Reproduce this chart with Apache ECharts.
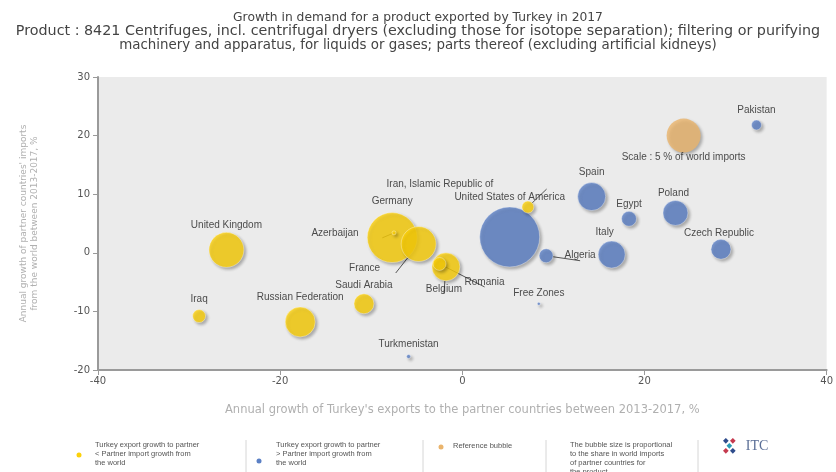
<!DOCTYPE html>
<html>
<head>
<meta charset="utf-8">
<script src="https://cdn.jsdelivr.net/npm/echarts@6/dist/echarts.min.js"></script>
<style>
html,body{margin:0;padding:0;background:#fff;}
#chart{width:836px;height:472px;}
</style>
</head>
<body>
<div id="chart"></div>
<script>
// ---- data ----
const countries = ['Pakistan','Spain','Egypt','Poland','Czech Republic','Italy','Algeria','United States of America','Iran, Islamic Republic of','Germany','Azerbaijan','France','Belgium','Romania','Free Zones','Saudi Arabia','Russian Federation','Iraq','United Kingdom','Turkmenistan'];
// annual growth of Turkey's exports to partner 2013-2017, %
const exportGrowth = [32.3, 14.2, 18.3, 23.4, 28.4, 16.4, 9.2, 5.2, 7.2, -7.7, -7.5, -4.8, -1.8, -2.5, 8.4, -10.8, -17.8, -28.9, -25.9, -5.9];
// annual growth of partner imports from the world 2013-2017, %
const importGrowth = [21.8, 9.6, 5.8, 6.8, 0.6, -0.3, -0.5, 2.7, 7.8, 2.6, 3.4, 1.5, -2.4, -1.9, -8.7, -8.7, -11.8, -10.8, 0.5, -17.7];
// share in world imports, %
const worldShare = [0.43, 3.4, 0.97, 2.7, 1.73, 3.16, 0.85, 15.6, 0.62, 10.8, 0.07, 5.3, 3.4, 0.73, 0.04, 1.73, 3.9, 0.73, 5.3, 0.07];
// 'lt' : Turkey export growth < partner import growth ; 'gt' : >
const groups = ['gt','gt','gt','gt','gt','gt','gt','gt','lt','lt','lt','lt','lt','lt','gt','lt','lt','lt','lt','gt'];
const reference = {name: 'Scale : 5 % of world imports', x: 24.3, y: 20.0, share: 5};

const xTicks = {min: -40, max: 40, interval: 20};
const yTicks = {min: -20, max: 30, interval: 10};

// ---- label placement (pixel offsets from bubble centre) ----
const labelPlace = {
  'Pakistan': [0, -15], 'Spain': [0, -24], 'Egypt': [0, -15], 'Poland': [-2, -20],
  'Czech Republic': [-2, -16], 'Italy': [-7, -22], 'Algeria': [34, 0, true],
  'United States of America': [0, -40], 'Iran, Islamic Republic of': [-88, -23, true],
  'Germany': [0, -36], 'Azerbaijan': [-59, 0, true], 'France': [-54, 24, true],
  'Belgium': [-2, 22, true], 'Romania': [45, 18, true], 'Free Zones': [0, -11],
  'Saudi Arabia': [0, -19], 'Russian Federation': [0, -25], 'Iraq': [0, -17],
  'United Kingdom': [0, -25], 'Turkmenistan': [0, -12]
};

const COLORS = {lt: '#fcd10a', gt: '#5b80c5', ref: '#eab46c'};
const sizeOf = s => 15.2 * Math.sqrt(s);

const labelBase = {
  show: true, position: 'inside', color: '#222', fontSize: 10,
  fontFamily: 'Liberation Sans, Arial, sans-serif', textBorderWidth: 0,
  textBorderColor: 'transparent', formatter: p => p.name
};

const idx = countries.map((_, i) => i).sort((a, b) => worldShare[b] - worldShare[a]);
const bubbleData = idx.map(i => {
  const pl = labelPlace[countries[i]] || [0, -12];
  return {
    name: countries[i],
    value: [exportGrowth[i], importGrowth[i], worldShare[i]],
    itemStyle: {color: COLORS[groups[i]]},
    label: Object.assign({}, labelBase, {offset: [pl[0], pl[1]]}),
    labelLine: {show: !!pl[2], lineStyle: {color: '#555', width: 1}}
  };
});

const legendFont = {fill: '#555', fontSize: 7.5, lineHeight: 9, fontFamily: 'Liberation Sans, sans-serif'};

const chart = echarts.init(document.getElementById('chart'), null, {renderer: 'canvas'});
const axisLineStyle = {color: '#9a9a9a', width: 2};
chart.setOption({
  animation: false,
  backgroundColor: '#ffffff',
  textStyle: {fontFamily: 'DejaVu Sans, sans-serif'},
  title: {
    text: '{a|Growth in demand for a product exported by Turkey in 2017}\n{c|Product : 8421 Centrifuges, incl. centrifugal dryers (excluding those for isotope separation); filtering or purifying}\n{b|machinery and apparatus, for liquids or gases; parts thereof (excluding artificial kidneys)}',
    left: 'center', top: 5,
    textStyle: {
      fontSize: 12, fontWeight: 'normal', color: '#444', lineHeight: 14, align: 'center',
      fontFamily: 'DejaVu Sans, sans-serif',
      rich: {
        a: {fontSize: 12.3, color: '#444', lineHeight: 15, fontFamily: 'DejaVu Sans, sans-serif', align: 'center'},
        c: {fontSize: 14.3, color: '#444', lineHeight: 13.5, fontFamily: 'DejaVu Sans, sans-serif', align: 'center'},
        b: {fontSize: 13.4, color: '#444', lineHeight: 13.5, fontFamily: 'DejaVu Sans, sans-serif', align: 'center'}
      }
    }
  },
  grid: {left: 98, right: 2, top: 77, bottom: 102, show: true, backgroundColor: '#ebebeb', borderWidth: 0},
  xAxis: {
    type: 'value', min: xTicks.min, max: xTicks.max, interval: xTicks.interval,
    name: "Annual growth of Turkey's exports to the partner countries between 2013-2017, %",
    nameLocation: 'middle', nameGap: 34,
    nameTextStyle: {color: '#b0b0b0', fontSize: 11.5},
    axisLine: {show: true, onZero: false, lineStyle: axisLineStyle},
    axisTick: {show: true, length: 5, lineStyle: {color: '#9a9a9a'}},
    axisLabel: {color: '#555', fontSize: 10, margin: 6},
    splitLine: {show: false}
  },
  yAxis: {
    type: 'value', min: yTicks.min, max: yTicks.max, interval: yTicks.interval,
    name: "Annual growth of partner countries' imports\nfrom the world between 2013-2017, %",
    nameLocation: 'middle', nameGap: 58, nameRotate: 90,
    nameTextStyle: {color: '#b0b0b0', fontSize: 9, lineHeight: 11},
    axisLine: {show: true, onZero: false, lineStyle: axisLineStyle},
    axisTick: {show: true, length: 5, lineStyle: {color: '#9a9a9a'}},
    axisLabel: {color: '#555', fontSize: 10, margin: 8},
    splitLine: {show: false}
  },
  series: [
    {
      type: 'scatter', name: 'bubbles',
      symbolSize: v => sizeOf(v[2]),
      itemStyle: {borderColor: 'rgba(255,255,255,0.45)', borderWidth: 1,
        shadowBlur: 3, shadowColor: 'rgba(0,0,0,0.35)', shadowOffsetX: 2, shadowOffsetY: 2},
      labelLine: {show: false},
      data: bubbleData
    },
    {
      type: 'scatter', name: 'reference',
      symbolSize: v => sizeOf(v[2]),
      itemStyle: {color: COLORS.ref, shadowBlur: 3, shadowColor: 'rgba(0,0,0,0.35)', shadowOffsetX: 2, shadowOffsetY: 2},
      label: Object.assign({}, labelBase, {offset: [0, 22]}),
      data: [{name: reference.name, value: [reference.x, reference.y, reference.share]}]
    }
  ],
  graphic: [
    // legend separators
    {type: 'line', shape: {x1: 246, y1: 440, x2: 246, y2: 472}, style: {stroke: '#d6d6d6', lineWidth: 1}},
    {type: 'line', shape: {x1: 423, y1: 440, x2: 423, y2: 472}, style: {stroke: '#d6d6d6', lineWidth: 1}},
    {type: 'line', shape: {x1: 546, y1: 440, x2: 546, y2: 472}, style: {stroke: '#d6d6d6', lineWidth: 1}},
    {type: 'line', shape: {x1: 698, y1: 440, x2: 698, y2: 472}, style: {stroke: '#d6d6d6', lineWidth: 1}},
    // legend items
    {type: 'circle', shape: {cx: 79, cy: 455, r: 2.5}, style: {fill: COLORS.lt}},
    {type: 'text', left: 95, top: 440, style: Object.assign({text: 'Turkey export growth to partner\n< Partner import growth from\nthe world'}, legendFont)},
    {type: 'circle', shape: {cx: 259, cy: 461, r: 2.5}, style: {fill: COLORS.gt}},
    {type: 'text', left: 276, top: 440, style: Object.assign({text: 'Turkey export growth to partner\n> Partner import growth from\nthe world'}, legendFont)},
    {type: 'circle', shape: {cx: 441, cy: 447, r: 2.5}, style: {fill: COLORS.ref}},
    {type: 'text', left: 453, top: 441, style: Object.assign({text: 'Reference bubble'}, legendFont)},
    {type: 'text', left: 570, top: 440, style: Object.assign({text: 'The bubble size is proportional\nto the share in world imports\nof partner countries for\nthe product', align: 'center', x: 52}, legendFont)},
    // ITC logo
    {type: 'group', left: 723, top: 438, children: [
      {type: 'rect', shape: {x: 0, y: 0, width: 4, height: 4}, rotation: 0.78, origin: [2, 2], style: {fill: '#2e4c8c'}},
      {type: 'rect', shape: {x: 7, y: 0, width: 4, height: 4}, rotation: 0.78, origin: [9, 2], style: {fill: '#c53a4f'}},
      {type: 'rect', shape: {x: 3.5, y: 5, width: 4, height: 4}, rotation: 0.78, origin: [5.5, 7], style: {fill: '#2a9bb5'}},
      {type: 'rect', shape: {x: 0, y: 10, width: 4, height: 4}, rotation: 0.78, origin: [2, 12], style: {fill: '#c53a4f'}},
      {type: 'rect', shape: {x: 7, y: 10, width: 4, height: 4}, rotation: 0.78, origin: [9, 12], style: {fill: '#2e4c8c'}},
      {type: 'text', left: 22, top: 0, style: {text: 'ITC', fill: '#5a6e96', fontSize: 14, fontFamily: 'Liberation Serif, serif'}}
    ]}
  ]
});
</script>
</body>
</html>
